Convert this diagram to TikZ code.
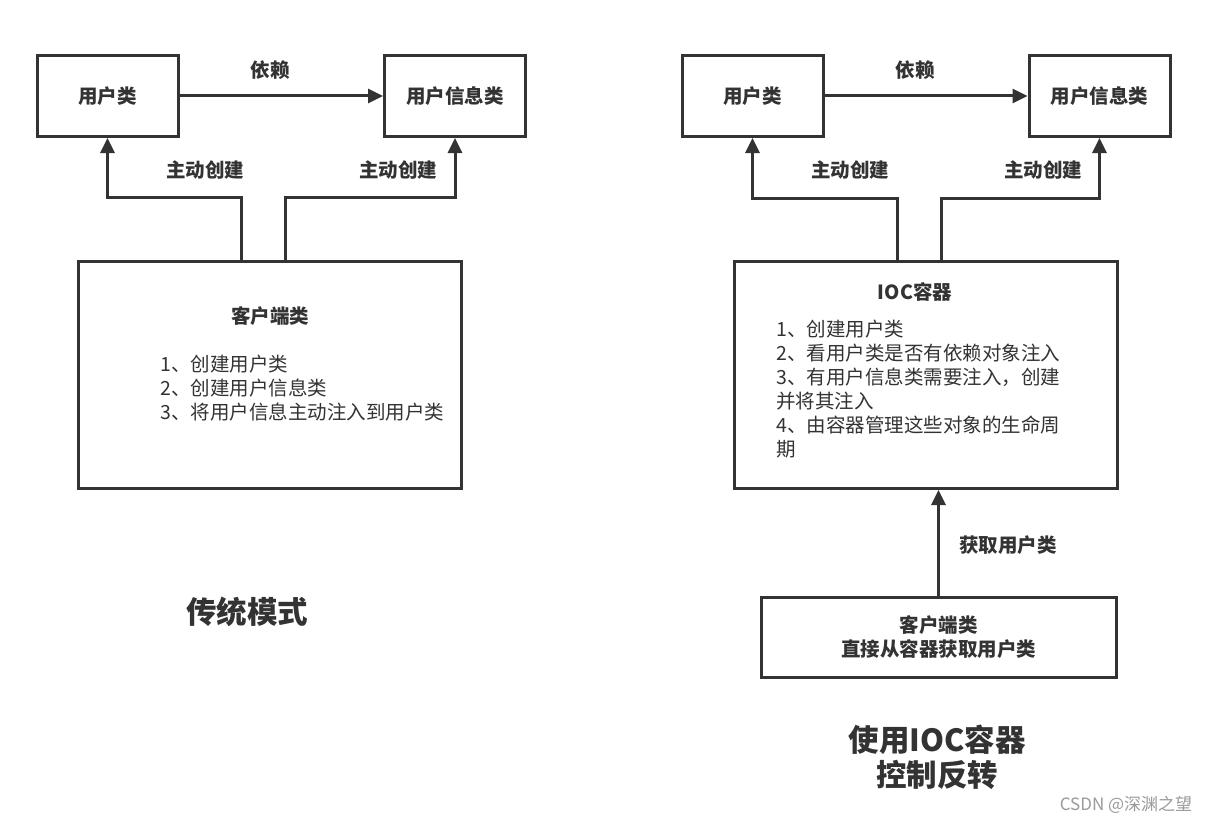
\documentclass[tikz,border=0pt]{standalone}
\usepackage{fontspec}
\setmainfont{Noto Sans CJK SC}
\usetikzlibrary{arrows.meta,positioning}
\definecolor{linec}{HTML}{333333}
\definecolor{markc}{HTML}{9A9A9A}

\begin{document}
\begin{tikzpicture}[x=1pt,y=-1pt,
  classbox/.style={draw=linec,line width=3pt,minimum width=141pt,minimum height=81pt,text=linec,font=\fontsize{19.5}{23}\selectfont\bfseries},
  bigbox/.style={draw=linec,line width=3pt,minimum width=383pt,minimum height=227pt},
  clientbox/.style={draw=linec,line width=3pt,minimum width=355pt,minimum height=80pt,align=center,text=linec,font=\fontsize{19.5}{24}\selectfont\bfseries},
  lbl/.style={text=linec,font=\fontsize{19.5}{23}\selectfont\bfseries,inner sep=0pt},
  steps/.style={text=linec,align=left,anchor=west,inner sep=0pt,font=\fontsize{19.5}{24}\selectfont},
  title/.style={text=linec,align=center,inner sep=0pt,font=\fontsize{30.5}{35}\selectfont\bfseries},
  arr/.style={draw=linec,line width=3pt,-{Triangle[length=15pt,width=14pt]}}
]
\useasboundingbox[fill=white] (0,0) rectangle (1209,824);

% left: traditional way
\node[classbox] at (107.5,96) (U1) {用户类};
\node[classbox] at (455,96) (I1) {用户信息类};
\node[bigbox] at (269.5,374.5) (C1) {};
\node[lbl] at (270,70) (D1) {依赖};
\node[lbl] at (205,170) (A1) {主动创建};
\node[lbl] at (398,170) (B1) {主动创建};
\node[lbl] at (270,316) (T1) {客户端类};
\node[steps] at (160,388) (S1) {1、创建用户类\\2、创建用户信息类\\3、将用户信息主动注入到用户类};
\node[title] at (247,612) (M1) {传统模式};

\draw[arr] (U1.east) -- (I1.west);
\draw[arr] ([xshift=-28pt]C1.north) -- ++(0,-62) -| (U1.south);
\draw[arr] ([xshift=16pt]C1.north) -- ++(0,-62) -| (I1.south);

% right: IOC container
\node[classbox] at (752.5,96) (U2) {用户类};
\node[classbox] at (1099.5,96) (I2) {用户信息类};
\node[bigbox] at (925.5,375) (C2) {};
\node[clientbox] at (938.5,637) (K2) {客户端类\\直接从容器获取用户类};
\node[lbl] at (915,70) (D2) {依赖};
\node[lbl] at (850,170) (A2) {主动创建};
\node[lbl] at (1043,170) (B2) {主动创建};
\node[lbl] at (915,292) (T2) {IOC容器};
\node[steps] at (776,389.5) (S2) {1、创建用户类\\2、看用户类是否有依赖对象注入\\3、有用户信息类需要注入，创建\\并将其注入\\4、由容器管理这些对象的生命周\\期};
\node[lbl] at (1008,545) (G2) {获取用户类};
\node[title] at (937,757) (M2) {使用IOC容器\\控制反转};

\draw[arr] (U2.east) -- (I2.west);
\draw[arr] ([xshift=-28pt]C2.north) -- ++(0,-62) -| (U2.south);
\draw[arr] ([xshift=16pt]C2.north) -- ++(0,-62) -| (I2.south);
\draw[arr] (K2.north) -- (K2.north |- C2.south);

\node[text=markc,font=\fontsize{17}{19}\selectfont,inner sep=0pt] at (1126,805) (W) {CSDN @深渊之望};
\end{tikzpicture}
\end{document}
